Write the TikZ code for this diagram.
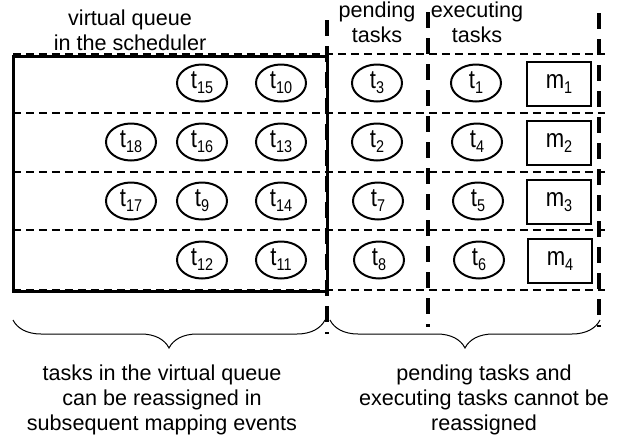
\documentclass[tikz,border=0pt]{standalone}
\usepackage{fontspec}
\setmainfont{Liberation Sans}
\newfontfamily\narrowfont{Liberation Sans}[FakeStretch=0.85]
\usepackage{tikz}
\usetikzlibrary{shapes.geometric,decorations.pathreplacing,positioning}

\newcommand{\tsk}[1]{t\raisebox{-2.5pt}{\fontsize{8.5}{9}\selectfont #1}}
\newcommand{\mch}[1]{m\raisebox{-2.5pt}{\fontsize{8.5}{9}\selectfont #1}}

\begin{document}
\begin{tikzpicture}[
    x=0.5pt, y=-0.5pt,
    task/.style={draw, ellipse, line width=1pt, minimum width=25pt,
      minimum height=18.5pt, inner sep=0pt,
      font=\narrowfont\fontsize{13}{13}\selectfont},
    machine/.style={draw, line width=1.2pt, minimum width=32pt,
      minimum height=22pt, inner sep=0pt,
      font=\narrowfont\fontsize{13}{13}\selectfont},
    rowline/.style={line width=0.75pt, dash pattern=on 4pt off 2.5pt},
    colline/.style={line width=2pt, dash pattern=on 8pt off 5pt},
    lbl/.style={align=center, font=\fontsize{10.8}{12.5}\selectfont},
    curly/.style={decorate, decoration={brace, mirror, amplitude=14pt},
      line width=0.5pt}
  ]
    \useasboundingbox (0,0) rectangle (623,440);

    % virtual queue box
    \draw[line width=1.5pt] (13,56) rectangle (327,291);

    % row separators
    \foreach \y in {54,113,172,230,290}
      \draw[rowline] (13,\y) -- (605,\y);

    % column separators
    \draw[colline] (327,20) -- (327,334);
    \draw[colline] (428,12) -- (428,327);
    \draw[colline] (599,13) -- (599,327);

    % headings
    \node[lbl] (vq)   at (130,30) {virtual queue\\in the scheduler};
    \node[lbl] (pend) at (377,22) {pending\\tasks};
    \node[lbl] (exec) at (477,22) {executing\\tasks};

    % tasks in the virtual queue
    \node[task] (t15) at (202,83)  {\tsk{15}};
    \node[task] (t10) at (281,83)  {\tsk{10}};
    \node[task] (t18) at (131,142) {\tsk{18}};
    \node[task] (t16) at (202,142) {\tsk{16}};
    \node[task] (t13) at (281,142) {\tsk{13}};
    \node[task] (t17) at (131,201) {\tsk{17}};
    \node[task] (t9)  at (202,201) {\tsk{9}};
    \node[task] (t14) at (281,201) {\tsk{14}};
    \node[task] (t12) at (202,260) {\tsk{12}};
    \node[task] (t11) at (281,260) {\tsk{11}};

    % pending tasks
    \node[task] (t3) at (377,83)  {\tsk{3}};
    \node[task] (t2) at (377,142) {\tsk{2}};
    \node[task] (t7) at (378,201) {\tsk{7}};
    \node[task] (t8) at (379,260) {\tsk{8}};

    % executing tasks
    \node[task] (t1) at (476,83)  {\tsk{1}};
    \node[task] (t4) at (477,142) {\tsk{4}};
    \node[task] (t5) at (478,201) {\tsk{5}};
    \node[task] (t6) at (479,260) {\tsk{6}};

    % machines
    \node[machine] (m1) at (559,84)  {\mch{1}};
    \node[machine] (m2) at (559,143) {\mch{2}};
    \node[machine] (m3) at (559,202) {\mch{3}};
    \node[machine] (m4) at (560,261) {\mch{4}};

    % braces and notes
    \draw[curly] (13,320) -- (325,320);
    \draw[curly] (330,320) -- (600,320);
    \node[lbl] (left)  at (162,400)
      {tasks in the virtual queue\\can be reassigned in\\subsequent mapping events};
    \node[lbl] (right) at (484,400)
      {pending tasks and\\executing tasks cannot be\\reassigned};
\end{tikzpicture}
\end{document}
